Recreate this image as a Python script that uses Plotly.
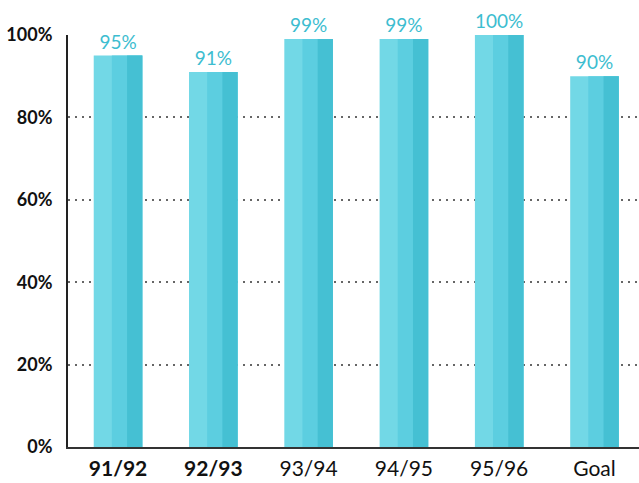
import plotly.graph_objects as go

categories = ["91/92", "92/93", "93/94", "94/95", "95/96", "Goal"]
tick_text = ["<b>91/92</b>", "<b>92/93</b>", "93/94", "94/95", "95/96", "Goal"]
values = [95, 91, 99, 99, 100, 90]
labels = ["95%", "91%", "99%", "99%", "100%", "90%"]

x = list(range(len(categories)))

fig = go.Figure()
# main bar (lighter left part)
fig.add_trace(go.Bar(x=x, y=values, width=0.51, marker=dict(color="#72d8e6", line=dict(width=0)),
                     text=labels, textposition="outside", cliponaxis=False,
                     textfont=dict(family="Lato", size=19, color="#3dbdd0"), hoverinfo="skip"))
# darker right portion to suggest the gradient
fig.add_trace(go.Bar(x=x, y=values, width=0.32, offset=-0.065, marker=dict(color="#5ccee0", line=dict(width=0)),
                     hoverinfo="skip"))
fig.add_trace(go.Bar(x=x, y=values, width=0.16, offset=0.095, marker=dict(color="#45c0d3", line=dict(width=0)),
                     hoverinfo="skip"))

fig.update_layout(
    width=639, height=483,
    margin=dict(l=68, r=0, t=35, b=36),
    barmode="overlay",
    showlegend=False,
    plot_bgcolor="white", paper_bgcolor="white",
    font=dict(family="Lato", color="#111"),
)
fig.update_xaxes(
    tickmode="array", tickvals=x, ticktext=tick_text,
    range=[-0.525, 5.467],
    showgrid=False, showline=True, linecolor="#333", linewidth=2,
    tickfont=dict(family="Lato", size=21, color="#111"),
    ticks="", ticklabelstandoff=2,
)
fig.update_yaxes(
    range=[0, 100], tickvals=[0, 20, 40, 60, 80, 100],
    ticktext=["<b>0%</b>", "<b>20%</b>", "<b>40%</b>", "<b>60%</b>", "<b>80%</b>", "<b>100%</b>"],
    showgrid=True, gridcolor="#666", griddash="2px,5px", gridwidth=2,
    showline=True, linecolor="#222", linewidth=2,
    zeroline=False,
    tickfont=dict(family="Lato", size=18, color="#111"),
    ticks="", ticklabelstandoff=10,
)

fig.write_html("out.html")
